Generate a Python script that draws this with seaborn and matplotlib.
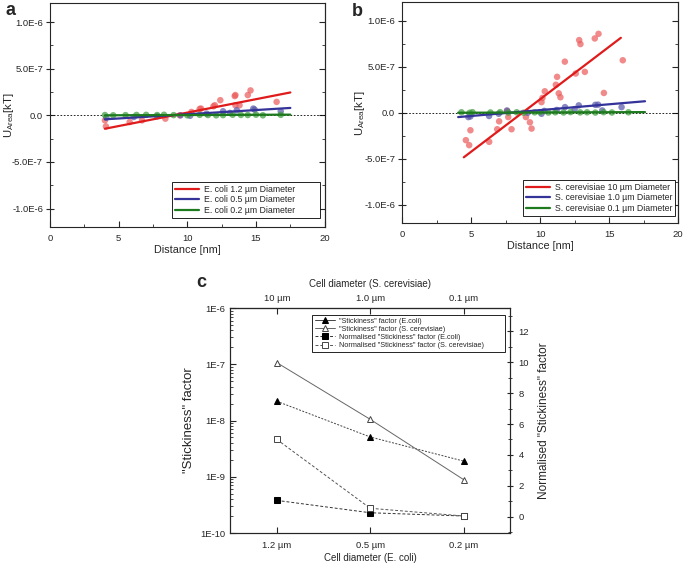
import matplotlib

matplotlib.use("Agg")
import matplotlib.pyplot as plt
import matplotlib.ticker as mticker
import numpy as np
import pandas as pd
import seaborn as sns

# ---- panel a: E. coli ----
a_red_x = [4.0, 4.07, 5.8, 6.7, 8.4, 9.45, 10.3, 10.9, 11.0, 11.9, 12.0, 12.4, 13.45, 13.5, 13.5, 13.8, 14.4, 14.6, 16.5]
a_red_y = [-5.4e-8, -1.19e-7, -7.2e-8, -5.4e-8, -3.6e-8, 0.0, 3.6e-8, 6.9e-8, 7.2e-8, 9.7e-8, 1.08e-7, 1.62e-7, 2.06e-7, 2.17e-7, 1.08e-7, 1.08e-7, 2.17e-7, 2.67e-7, 1.44e-7]
a_blue_x = [4.1, 6.1, 7.8, 9.5, 10.2, 11.4, 12.6, 13.1, 13.6, 14.8, 14.9, 16.8]
a_blue_y = [-2.5e-8, -1.8e-8, -1.0e-8, 0.0, -5e-9, 1.8e-8, 4.3e-8, 2.5e-8, 5.4e-8, 7.2e-8, 6.1e-8, 4.3e-8]
a_green_x = [4.0, 4.6, 5.5, 6.3, 7.0, 7.8, 8.3, 9.0, 10.0, 10.9, 11.5, 12.1, 12.6, 13.3, 13.9, 14.4, 15.0, 15.5, 16.8]
a_green_y = [3e-9, 0.0, 2e-9, 4e-9, 5e-9, 3e-9, 6e-9, 2e-9, 0.0, 5e-9, 3e-9, 0.0, 2e-9, 6e-9, 4e-9, 3e-9, 7e-9, 0.0, 5e-9]
a_fit_x = [4.0, 17.5]
a_fit_red = [-1.44e-7, 2.45e-7]
a_fit_blue = [-4.3e-8, 7.9e-8]
a_fit_green = [0.0, 7e-9]
a_labels = ["E. coli 1.2 µm Diameter", "E. coli 0.5 µm Diameter", "E. coli 0.2 µm Diameter"]

# ---- panel b: S. cerevisiae ----
b_red_x = [4.62, 4.86, 4.95, 6.31, 6.89, 7.03, 7.61, 7.69, 7.93, 8.97, 9.26, 9.38, 10.1, 10.17, 10.34, 11.14, 11.23, 11.35, 11.47, 11.79, 12.58, 12.83, 12.92, 13.24, 13.96, 14.23, 14.62, 15.99]
b_red_y = [-2.98e-7, -3.52e-7, -1.9e-7, -3.16e-7, -1.79e-7, -9.3e-8, 1.7e-8, -4.7e-8, -1.79e-7, -4.7e-8, -1.04e-7, -1.72e-7, 1.15e-7, 1.61e-7, 2.33e-7, 3.04e-7, 3.9e-7, 2.11e-7, 1.68e-7, 5.55e-7, 4.26e-7, 7.89e-7, 7.46e-7, 4.44e-7, 8.07e-7, 8.57e-7, 2.15e-7, 5.7e-7]
b_blue_x = [4.8, 4.95, 6.3, 7.0, 7.6, 9.1, 10.1, 10.3, 11.2, 11.8, 12.5, 12.8, 14.0, 14.2, 14.5, 15.9]
b_blue_y = [-4.7e-8, -4.0e-8, -3.5e-8, -1.1e-8, 2.5e-8, 0.0, -1.1e-8, 2.0e-8, 3.0e-8, 6.1e-8, 4.0e-8, 8.0e-8, 8.6e-8, 8.8e-8, 2.5e-8, 6.1e-8]
b_green_x = [4.3, 4.9, 5.1, 6.4, 7.1, 7.7, 8.3, 8.8, 9.6, 10.0, 10.6, 11.1, 11.7, 12.2, 12.9, 13.4, 14.0, 14.6, 15.2, 16.4]
b_green_y = [5e-9, 0.0, 6e-9, 3e-9, 6e-9, 2e-9, 5e-9, 0.0, 4e-9, 6e-9, 2e-9, 5e-9, 3e-9, 7e-9, 4e-9, 5e-9, 2e-9, 6e-9, 3e-9, 5e-9]
b_fit_red_x = [4.47, 15.85]
b_fit_red = [-4.84e-7, 8.14e-7]
b_fit_x = [4.06, 17.6]
b_fit_blue = [-4.7e-8, 1.25e-7]
b_fit_green = [0.0, 7e-9]
b_labels = ["S. cerevisiae 10 µm Diameter", "S. cerevisiae 1.0 µm Diameter", "S. cerevisiae 0.1 µm Diameter"]

# ---- panel c: stickiness ----
ecoli_sizes = ["1.2 µm", "0.5 µm", "0.2 µm"]
yeast_sizes = ["10 µm", "1.0 µm", "0.1 µm"]
stick_ecoli = [2.2e-8, 5.1e-9, 1.9e-9]
stick_yeast = [1.07e-7, 1.05e-8, 8.9e-10]
norm_ecoli = [1.06, 0.26, 0.05]
norm_yeast = [5.0, 0.55, 0.05]

RED = "#e01b1b"
RED_PT = "#ec5a5a"
BLUE = "#333399"
BLUE_PT = "#5656a8"
GREEN = "#1d7a1d"
GREEN_PT = "#3c9a3c"

TICK_FS = 6.8


def sci_fmt(v, pos):
    if abs(v) < 1e-12:
        return "0.0"
    s = f"{v:.1E}"
    mant, exp = s.split("E")
    return f"{mant}E{int(exp)}"


def style_u_axis(ax, ylab_x):
    ax.set_xlim(0, 20)
    ax.set_ylim(-1.2e-6, 1.2e-6)
    ax.set_xticks([0, 5, 10, 15, 20])
    ax.set_yticks([-1e-6, -5e-7, 0, 5e-7, 1e-6])
    ax.xaxis.set_minor_locator(mticker.MultipleLocator(2.5))
    ax.yaxis.set_minor_locator(mticker.MultipleLocator(2.5e-7))
    ax.yaxis.set_major_formatter(mticker.FuncFormatter(sci_fmt))
    ax.tick_params(which="both", direction="in", labelsize=TICK_FS)
    ax.tick_params(axis="x", which="major", length=4, width=0.8, pad=5)
    ax.tick_params(axis="x", which="minor", length=2.5, width=0.6)
    ax.tick_params(axis="y", which="major", direction="inout", length=6, width=0.8, pad=2)
    ax.tick_params(axis="y", which="minor", length=2.5, width=0.6)
    # inward ticks on the right side, no labels
    right = ax.secondary_yaxis("right")
    right.set_yticks([-1e-6, -5e-7, 0, 5e-7, 1e-6])
    right.yaxis.set_minor_locator(mticker.MultipleLocator(2.5e-7))
    right.tick_params(which="both", direction="in", labelright=False)
    right.tick_params(which="major", length=4, width=0.8)
    right.tick_params(which="minor", length=2.5, width=0.6)
    ax.axhline(0, color="black", lw=0.6, ls=(0, (2, 2)), zorder=1)
    ax.set_xlabel("Distance [nm]", fontsize=7.8, labelpad=1)
    ax.set_ylabel(r"U$_{\mathrm{Area}}$[kT]", fontsize=8.2)
    ax.yaxis.set_label_coords(ylab_x, 0.5)
    for sp in ax.spines.values():
        sp.set_linewidth(0.8)


def panel_u(ax, pts, fits, labels, ylab_x, leg_box):
    for (px, py, c) in pts:
        sns.scatterplot(x=px, y=py, color=c, s=22, alpha=0.7, edgecolor="none", ax=ax, zorder=2)
    for (fx, fy, c), lab in zip(fits, labels):
        sns.lineplot(x=fx, y=fy, color=c, lw=1.6, ax=ax, label=lab, zorder=3)
    style_u_axis(ax, ylab_x)
    leg = ax.legend(loc="lower left", bbox_to_anchor=leg_box, mode="expand", fontsize=6.3,
                    frameon=True, fancybox=False, edgecolor="black", borderpad=0.35,
                    handlelength=2.7, handletextpad=0.6, labelspacing=0.2, framealpha=1,
                    borderaxespad=0)
    leg.get_frame().set_linewidth(0.6)


def main():
    sns.set_style("ticks")
    plt.rcParams["font.family"] = ["Liberation Sans", "DejaVu Sans"]
    plt.rcParams["mathtext.fontset"] = "custom"
    plt.rcParams["mathtext.rm"] = "Liberation Sans"

    fig = plt.figure(figsize=(6.85, 5.68), dpi=100)

    ax_a = fig.add_axes([0.073, 0.600, 0.401, 0.394])
    panel_u(
        ax_a,
        [(a_red_x, a_red_y, RED_PT), (a_blue_x, a_blue_y, BLUE_PT), (a_green_x, a_green_y, GREEN_PT)],
        [(a_fit_x, a_fit_red, RED), (a_fit_x, a_fit_blue, BLUE), (a_fit_x, a_fit_green, GREEN)],
        a_labels,
        -0.124,
        (0.444, 0.04, 0.538, 0.152),
    )
    fig.text(0.008, 0.982, "a", fontsize=13, fontweight="bold", va="center")

    ax_b = fig.add_axes([0.587, 0.607, 0.403, 0.389])
    panel_u(
        ax_b,
        [(b_red_x, b_red_y, RED_PT), (b_blue_x, b_blue_y, BLUE_PT), (b_green_x, b_green_y, GREEN_PT)],
        [(b_fit_red_x, b_fit_red, RED), (b_fit_x, b_fit_blue, BLUE), (b_fit_x, b_fit_green, GREEN)],
        b_labels,
        -0.127,
        (0.438, 0.032, 0.55, 0.163),
    )
    fig.text(0.513, 0.98, "b", fontsize=13, fontweight="bold", va="center")

    # ---- panel c ----
    ax_c = fig.add_axes([0.336, 0.0616, 0.409, 0.396])
    pos = np.arange(len(ecoli_sizes))
    df_c = pd.DataFrame({"pos": pos, "stick_ecoli": stick_ecoli, "stick_yeast": stick_yeast,
                         "norm_ecoli": norm_ecoli, "norm_yeast": norm_yeast})

    sns.lineplot(data=df_c, x="pos", y="stick_ecoli", ax=ax_c, color="#444444", lw=0.7,
                 ls=(0, (2, 1.5)), marker="^", markersize=5, markerfacecolor="black",
                 markeredgecolor="black", label='"Stickiness" factor (E.coli)')
    sns.lineplot(data=df_c, x="pos", y="stick_yeast", ax=ax_c, color="#666666", lw=0.7,
                 marker="^", markersize=5, markerfacecolor="white", markeredgecolor="#444444",
                 markeredgewidth=0.7, label='"Stickiness" factor (S. cerevisiae)')
    ax_c.set_yscale("log")
    ax_c.set_ylim(1e-10, 1e-6)
    ax_c.set_xlim(-0.5, 2.5)
    ax_c.set_xticks(pos)
    ax_c.set_xticklabels(ecoli_sizes)
    ax_c.yaxis.set_major_locator(mticker.LogLocator(base=10, numticks=10))
    ax_c.yaxis.set_minor_locator(mticker.LogLocator(base=10, subs=np.arange(2, 10), numticks=10))
    ax_c.yaxis.set_minor_formatter(mticker.NullFormatter())
    ax_c.yaxis.set_major_formatter(
        mticker.FuncFormatter(lambda v, p: f"1E{int(round(np.log10(v)))}"))
    ax_c.tick_params(which="both", direction="in", labelsize=TICK_FS)
    ax_c.tick_params(which="major", length=4, width=0.8)
    ax_c.tick_params(which="minor", length=2, width=0.6)
    ax_c.tick_params(axis="x", pad=6)
    ax_c.set_xlabel("Cell diameter (E. coli)", fontsize=7, labelpad=2)
    ax_c.set_ylabel('"Stickiness" factor', fontsize=9.5, labelpad=4)

    ax_r = ax_c.twinx()
    sns.lineplot(data=df_c, x="pos", y="norm_ecoli", ax=ax_r, color="#333333", lw=0.7,
                 ls=(0, (3, 2)), marker="s", markersize=4.5, markerfacecolor="black",
                 markeredgecolor="black", label='Normalised "Stickiness" factor (E.coli)')
    sns.lineplot(data=df_c, x="pos", y="norm_yeast", ax=ax_r, color="#555555", lw=0.7,
                 ls=(0, (3, 2)), marker="s", markersize=4.5, markerfacecolor="white",
                 markeredgecolor="#444444", markeredgewidth=0.7,
                 label='Normalised "Stickiness" factor (S. cerevisiae)')
    ax_r.set_ylim(-1.05, 13.5)
    ax_r.set_yticks([0, 2, 4, 6, 8, 10, 12])
    ax_r.yaxis.set_minor_locator(mticker.MultipleLocator(1))
    ax_r.tick_params(which="both", direction="inout", labelsize=TICK_FS)
    ax_r.tick_params(which="major", length=5, width=0.8)
    ax_r.tick_params(which="minor", length=3, width=0.6)
    ax_r.set_ylabel('Normalised "Stickiness" factor', fontsize=8.5, labelpad=6)
    ax_r.set_xlabel("")

    ax_top = ax_c.secondary_xaxis("top")
    ax_top.set_xticks(pos)
    ax_top.set_xticklabels(yeast_sizes)
    ax_top.tick_params(direction="in", length=4, width=0.8, labelsize=TICK_FS, pad=4)
    ax_top.set_xlabel("Cell diameter (S. cerevisiae)", fontsize=7, labelpad=5)

    for a in (ax_c, ax_r):
        for sp in a.spines.values():
            sp.set_linewidth(0.8)

    h1, l1 = ax_c.get_legend_handles_labels()
    h2, l2 = ax_r.get_legend_handles_labels()
    ax_c.get_legend().remove()
    ax_r.get_legend().remove()
    leg = ax_r.legend(h1 + h2, l1 + l2, loc="upper left", bbox_to_anchor=(0.293, 0.787, 0.689, 0.182),
                      mode="expand", borderaxespad=0, fontsize=5.2, frameon=True, fancybox=False,
                      edgecolor="black", handlelength=2.8, handletextpad=0.6, labelspacing=0.15,
                      borderpad=0.35, framealpha=1)
    leg.get_frame().set_linewidth(0.6)
    # the stickiness entries are drawn with solid lines in the key
    leg.get_lines()[0].set_linestyle("-")
    leg.get_lines()[1].set_linestyle("-")

    fig.text(0.287, 0.502, "c", fontsize=13, fontweight="bold", va="center")

    fig.savefig("out.png", dpi=100)


if __name__ == "__main__":
    main()
